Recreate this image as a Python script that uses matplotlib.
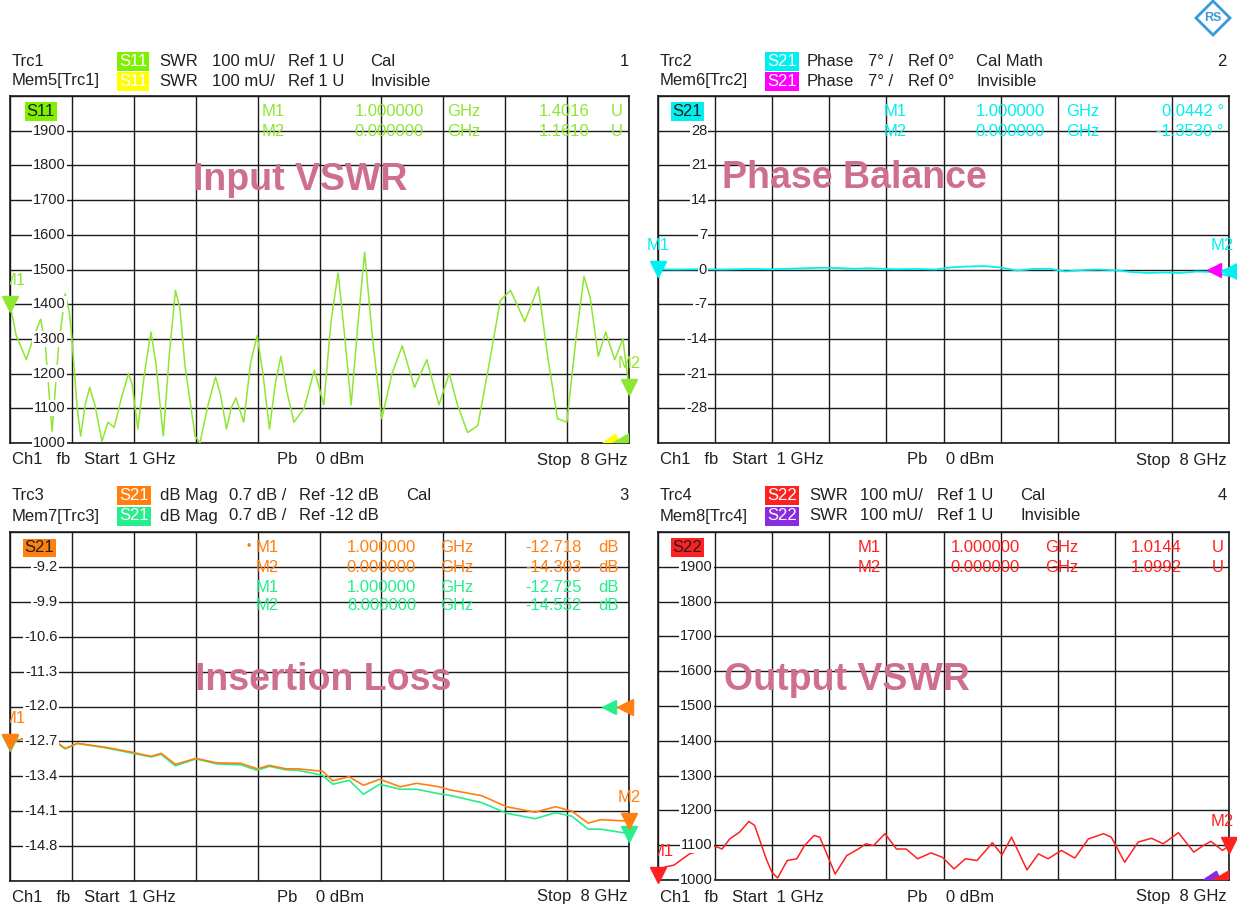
import matplotlib.pyplot as plt
import numpy as np
from matplotlib.patches import Polygon

plt.rcParams['font.family'] = ['Liberation Sans', 'DejaVu Sans']

# Trc1: S11 SWR (mU), 1..8 GHz
s11_f = [1.000, 1.07, 1.185, 1.26, 1.347, 1.40, 1.476, 1.55, 1.624, 1.67,
         1.70, 1.76, 1.799, 1.85, 1.901, 1.96, 2.040, 2.109, 2.178, 2.26,
         2.340, 2.38, 2.446, 2.52, 2.594, 2.65, 2.733, 2.80, 2.871, 2.92,
         2.98, 3.093, 3.148, 3.24, 3.324, 3.38, 3.449, 3.50, 3.555, 3.643,
         3.72, 3.795, 3.86, 3.934, 4.00, 4.063, 4.13, 4.211, 4.326, 4.442,
         4.548, 4.63, 4.710, 4.78, 4.858, 4.93, 5.010, 5.10, 5.204, 5.32,
         5.436, 5.574, 5.713, 5.851, 5.967, 6.06, 6.175, 6.290, 6.42, 6.544,
         6.660, 6.821, 6.974, 7.08, 7.191, 7.297, 7.40, 7.491, 7.56, 7.653,
         7.736, 7.838, 7.931, 7.97, 8.000]
s11_v = [1400, 1310, 1240, 1300, 1357, 1280, 1034, 1280, 1430, 1380,
         1300, 1100, 1020, 1110, 1160, 1110, 1005, 1060, 1045, 1130,
         1200, 1170, 1040, 1200, 1320, 1230, 1020, 1250, 1440, 1390,
         1220, 1020, 1000, 1110, 1190, 1140, 1040, 1100, 1130, 1060,
         1230, 1310, 1200, 1040, 1170, 1250, 1150, 1060, 1100, 1210,
         1110, 1350, 1490, 1320, 1110, 1330, 1550, 1300, 1070, 1200,
         1280, 1160, 1240, 1110, 1200, 1110, 1030, 1050, 1230, 1410,
         1440, 1350, 1450, 1250, 1070, 1060, 1300, 1480, 1420, 1250,
         1320, 1240, 1300, 1220, 1161]

# Trc2: S21 phase (deg)
ph_f = [1.0, 1.2, 1.5, 1.8, 2.1, 2.4, 2.7, 3.0, 3.2, 3.4, 3.6, 3.9, 4.2, 4.4,
        4.6, 4.8, 5.0, 5.2, 5.4, 5.6, 5.8, 6.0, 6.2, 6.4, 6.6, 6.8, 7.0, 7.2,
        7.4, 7.6, 7.8, 7.9, 8.0]
ph_v = [0.04, 0.0, 0.05, 0.0, 0.1, 0.05, 0.2, 0.35, 0.3, 0.15, 0.25, 0.05, 0.1, 0.0,
        0.45, 0.6, 0.7, 0.4, -0.2, 0.1, 0.15, -0.4, -0.1, 0.0, -0.15, -0.5, -0.7, -0.6,
        -0.7, -0.4, -0.5, -0.9, -1.35]

# Trc3: S21 dB Mag, trace and memory
il_f = [1.0, 1.162, 1.347, 1.508, 1.624, 1.762, 2.086, 2.363, 2.594, 2.710,
        2.871, 3.103, 3.334, 3.611, 3.795, 3.934, 4.119, 4.257, 4.535, 4.650,
        4.835, 4.997, 5.182, 5.413, 5.598, 5.852, 5.967, 6.337, 6.614, 6.938,
        7.169, 7.354, 7.538, 7.677, 8.0]
il_trc = [-12.72, -12.64, -12.67, -12.69, -12.84, -12.74, -12.82, -12.91, -13.00, -12.94,
          -13.16, -13.04, -13.13, -13.14, -13.25, -13.18, -13.25, -13.25, -13.30, -13.49,
          -13.41, -13.58, -13.46, -13.61, -13.54, -13.61, -13.67, -13.79, -14.01, -14.12,
          -14.01, -14.10, -14.34, -14.27, -14.30]
il_mem = [-12.72, -12.64, -12.67, -12.70, -12.85, -12.74, -12.83, -12.93, -13.01, -12.96,
          -13.19, -13.05, -13.15, -13.17, -13.28, -13.20, -13.27, -13.28, -13.38, -13.56,
          -13.48, -13.76, -13.56, -13.66, -13.66, -13.75, -13.78, -13.93, -14.14, -14.25,
          -14.13, -14.20, -14.46, -14.46, -14.55]

# Trc4: S22 SWR (mU)
s22_f = [1.0, 1.080, 1.197, 1.386, 1.527, 1.621, 1.715, 1.785, 1.879, 1.997,
         2.114, 2.185, 2.326, 2.397, 2.467, 2.584, 2.702, 2.796, 2.913, 2.984,
         3.172, 3.313, 3.454, 3.548, 3.642, 3.783, 3.924, 4.042, 4.183, 4.347,
         4.488, 4.629, 4.770, 4.911, 5.099, 5.217, 5.334, 5.523, 5.664, 5.781,
         5.946, 6.110, 6.275, 6.463, 6.557, 6.721, 6.886, 7.051, 7.192, 7.380,
         7.568, 7.685, 7.779, 7.920, 8.0]
s22_v = [1014, 1037, 1043, 1075, 1085, 1099, 1096, 1089, 1118, 1137,
         1168, 1157, 1061, 1022, 1006, 1056, 1061, 1099, 1128, 1123,
         1017, 1070, 1089, 1104, 1099, 1133, 1089, 1089, 1061, 1078,
         1065, 1032, 1061, 1056, 1107, 1072, 1123, 1029, 1075, 1061,
         1085, 1063, 1118, 1133, 1123, 1051, 1109, 1120, 1104, 1136,
         1080, 1099, 1111, 1085, 1099]

swr_ticks = [1900, 1800, 1700, 1600, 1500, 1400, 1300, 1200, 1100, 1000]
ph_ticks = [28, 21, 14, 7, 0, -7, -14, -21, -28]
il_ticks = [-9.2, -9.9, -10.6, -11.3, -12.0, -12.7, -13.4, -14.1, -14.8]

LIME = '#8ee632'
CYAN = '#00f0f0'
ORANGE = '#ff7f10'
MINT = '#26ee8c'
RED = '#ff2020'
PINK = '#cf6f90'

W, H = 1237, 911
fig = plt.figure(figsize=(W / 100, H / 100), dpi=100)


def fp(x, y):
    return x / W, 1 - y / H


def txt(x, y, s, color='#202020', size=12, ha='left', **kw):
    fig.text(*fp(x, y), s, color=color, fontsize=size, ha=ha, va='center', **kw)


def panel(l, t, r, b, ylo, yhi, ticks, fmt, labx):
    ax = fig.add_axes([l / W, 1 - b / H, (r - l) / W, (b - t) / H])
    ax.set_xlim(1, 8)
    ax.set_ylim(ylo, yhi)
    ax.set_xticks(np.linspace(1, 8, 11))
    ax.set_yticks(np.linspace(ylo, yhi, 11))
    ax.grid(True, color='#1a1a1a', lw=1)
    ax.set_axisbelow(True)
    ax.tick_params(length=0, labelbottom=False, labelleft=False)
    for s in ax.spines.values():
        s.set_color('#1a1a1a')
        s.set_linewidth(1.2)
    for v in ticks:
        ax.text(labx, v, fmt.format(v), transform=ax.get_yaxis_transform(),
                ha='right', va='center', fontsize=10.5, color='#202020',
                bbox=dict(fc='white', ec='none', pad=0.8), zorder=4)
    return ax


def header(x0, y0, trc, mem, box1, box2, c1, c2, desc, state1, state2, sx, num, xnum):
    txt(x0 + 2, y0, trc)
    txt(x0 + 2, y0 + 20, mem)
    txt(x0 + 109, y0, box1, color='white', bbox=dict(fc=c1, ec='none', pad=1.5))
    txt(x0 + 109, y0 + 20, box2, color='white', bbox=dict(fc=c2, ec='none', pad=1.5))
    for dx, s in desc:
        txt(x0 + dx, y0, s)
        txt(x0 + dx, y0 + 20, s)
    txt(sx, y0, state1)
    txt(sx, y0 + 20, state2)
    txt(xnum, y0, num, ha='right')


def footer(x0, x1, y, ppos):
    txt(x0 + 2, y, 'Ch1   fb   Start  1 GHz', size=12)
    txt(ppos, y, 'Pb    0 dBm', size=12)
    txt(x1, y, 'Stop  8 GHz', size=12, ha='right')


def mlabel(ax, x, y, s, color, clip, dx=0):
    ax.annotate(s, (x, y), xytext=(dx, 17), textcoords='offset points', ha='center',
                va='center', color=color, fontsize=12, annotation_clip=False,
                clip_on=clip)


# ---------- panel 1 ----------
ax1 = panel(10, 96, 629, 443, 1000, 2000, swr_ticks, '{:d}', 0.090)
ax1.plot(s11_f, s11_v, color=LIME, lw=1.1, zorder=3)
ax1.plot([1], [1401.6], marker='v', ms=11, color=LIME, clip_on=False, zorder=5)
ax1.plot([8], [1161], marker='v', ms=11, color=LIME, clip_on=False, zorder=5)
mlabel(ax1, 1, 1401.6, 'M1', LIME, True, dx=3)
mlabel(ax1, 8, 1161, 'M2', LIME, False)
ax1.add_patch(Polygon([(0.958, 0), (0.985, 0), (0.978, 0.025)], closed=True,
                      transform=ax1.transAxes, color='#ffff00', zorder=5))
ax1.add_patch(Polygon([(0.972, 0), (1.0, 0), (1.0, 0.03)], closed=True,
                      transform=ax1.transAxes, color=LIME, zorder=5))
ax1.text(0.027, 0.955, 'S11', transform=ax1.transAxes, fontsize=12, va='center',
         color='#202020', bbox=dict(fc='#80f000', ec='none', pad=1.2))

# ---------- panel 2 ----------
ax2 = panel(658, 96, 1229, 443, -35, 35, ph_ticks, '{:d}', 0.086)
ax2.plot(ph_f, ph_v, color=CYAN, lw=1.3, zorder=3)
ax2.plot([1], [0.0442], marker='v', ms=11, color=CYAN, clip_on=False, zorder=5)
ax2.plot([7.82], [0], marker='<', ms=10, color='#ff00ff', clip_on=False, zorder=5)
ax2.plot([8.0], [-0.3], marker='<', ms=11, color=CYAN, clip_on=False, zorder=6)
mlabel(ax2, 1, 0.0442, 'M1', CYAN, False)
mlabel(ax2, 8, 0, 'M2', CYAN, False, dx=-5)
ax2.text(0.025, 0.955, 'S21', transform=ax2.transAxes, fontsize=12, va='center',
         color='#202020', bbox=dict(fc=CYAN, ec='none', pad=1.2))

# ---------- panel 3 ----------
ax3 = panel(10, 532, 629, 881, -15.5, -8.5, il_ticks, '{:.1f}', 0.077)
ax3.plot(il_f, il_mem, color=MINT, lw=1.2, zorder=3)
ax3.plot(il_f, il_trc, color=ORANGE, lw=1.2, zorder=3)
ax3.plot([1], [-12.725], marker='v', ms=11, color=MINT, clip_on=False, zorder=5)
ax3.plot([1], [-12.718], marker='v', ms=11, color=ORANGE, clip_on=False, zorder=5)
ax3.plot([8], [-14.552], marker='v', ms=11, color=MINT, clip_on=False, zorder=5)
ax3.plot([8], [-14.303], marker='v', ms=11, color=ORANGE, clip_on=False, zorder=5)
ax3.plot([7.77], [-12.0], marker='<', ms=10, color=MINT, clip_on=False, zorder=5)
ax3.plot([7.95], [-12.0], marker='<', ms=11, color=ORANGE, clip_on=False, zorder=5)
mlabel(ax3, 1, -12.718, 'M1', ORANGE, True, dx=3)
mlabel(ax3, 8, -14.303, 'M2', ORANGE, False)
ax3.text(0.023, 0.955, 'S21', transform=ax3.transAxes, fontsize=12, va='center',
         color='#202020', bbox=dict(fc=ORANGE, ec='none', pad=1.2))

# ---------- panel 4 ----------
ax4 = panel(658, 532, 1229, 880, 1000, 2000, swr_ticks, '{:d}', 0.096)
ax4.plot(s22_f, s22_v, color=RED, lw=1.1, zorder=3)
ax4.plot([1], [1014.4], marker='v', ms=11, color=RED, clip_on=False, zorder=5)
ax4.plot([8], [1099.2], marker='v', ms=11, color=RED, clip_on=False, zorder=5)
mlabel(ax4, 1, 1014.4, 'M1', RED, True, dx=3)
mlabel(ax4, 8, 1099.2, 'M2', RED, False, dx=-5)
ax4.add_patch(Polygon([(0.955, 0), (0.985, 0), (0.978, 0.025)], closed=True,
                      transform=ax4.transAxes, color='#8a2be2', zorder=5))
ax4.add_patch(Polygon([(0.97, 0), (1.0, 0), (1.0, 0.03)], closed=True,
                      transform=ax4.transAxes, color=RED, zorder=5))
ax4.text(0.025, 0.955, 'S22', transform=ax4.transAxes, fontsize=12, va='center',
         color='#202020', bbox=dict(fc=RED, ec='none', pad=1.2))

# ---------- headers ----------
header(10, 61, 'Trc1', 'Mem5[Trc1]', 'S11', 'S11', '#80f000', '#ffff00',
       [(149, 'SWR'), (202, '100 mU/'), (278, 'Ref 1 U')], 'Cal', 'Invisible', 370, '1', 629)
header(658, 61, 'Trc2', 'Mem6[Trc2]', 'S21', 'S21', CYAN, '#ff00ff',
       [(149, 'Phase'), (210, '7° /'), (250, 'Ref 0°')], 'Cal Math', 'Invisible', 976, '2', 1227)
header(10, 496, 'Trc3', 'Mem7[Trc3]', 'S21', 'S21', ORANGE, MINT,
       [(150, 'dB Mag'), (219, '0.7 dB /'), (289, 'Ref -12 dB')], 'Cal', '', 406, '3', 629)
header(658, 496, 'Trc4', 'Mem8[Trc4]', 'S22', 'S22', RED, '#8a2be2',
       [(151, 'SWR'), (202, '100 mU/'), (279, 'Ref 1 U')], 'Cal', 'Invisible', 1020, '4', 1227)

footer(10, 628, 460, 277)
footer(658, 1227, 460, 907)
footer(10, 628, 897, 277)
footer(658, 1227, 897, 907)


# ---------- marker tables ----------
def mrow(y, xs, vals, color):
    x_m, x_f, x_u, x_v, x_vu = xs
    m, f, v, vu = vals
    txt(x_m, y, m, color=color)
    txt(x_f, y, f, color=color, ha='right')
    txt(x_u, y, 'GHz', color=color)
    txt(x_v, y, v, color=color, ha='right')
    txt(x_vu, y, vu, color=color)


mrow(112, (262, 424, 447, 590, 611), ('M1', '1.000000', '1.4016', 'U'), LIME)
mrow(131, (262, 424, 447, 590, 611), ('M2', '0.000000', '1.1610', 'U'), LIME)
mrow(112, (884, 1045, 1066, 1224, 1224), ('M1', '1.000000', '0.0442 °', ''), CYAN)
mrow(131, (884, 1045, 1066, 1224, 1224), ('M2', '0.000000', '-1.3530 °', ''), CYAN)
mrow(548, (256, 416, 440, 582, 598), ('M1', '1.000000', '-12.718', 'dB'), ORANGE)
mrow(567, (256, 416, 440, 582, 598), ('M2', '0.000000', '-14.303', 'dB'), ORANGE)
mrow(587, (256, 416, 440, 582, 598), ('M1', '1.000000', '-12.725', 'dB'), MINT)
mrow(606, (256, 416, 440, 582, 598), ('M2', '8.000000', '-14.552', 'dB'), MINT)
txt(246, 547, '•', color=ORANGE, size=9)
mrow(548, (858, 1020, 1045, 1182, 1212), ('M1', '1.000000', '1.0144', 'U'), RED)
mrow(567, (858, 1020, 1045, 1182, 1212), ('M2', '0.000000', '1.0992', 'U'), RED)

# ---------- big titles ----------
for x, y, s in [(193, 180, 'Input VSWR'), (722, 178, 'Phase Balance'),
                (195, 680, 'Insertion Loss'), (724, 680, 'Output VSWR')]:
    txt(x, y, s, color=PINK, size=27, fontweight='bold', zorder=6)

# ---------- logo ----------
cx, cy, rr = 1213, 18, 17
fig.patches.append(Polygon([fp(cx - rr, cy), fp(cx, cy - rr), fp(cx + rr, cy), fp(cx, cy + rr)],
                           closed=True, transform=fig.transFigure, fill=False,
                           ec='#3a9ad9', lw=2))
txt(cx, cy, 'RS', color='#3a9ad9', size=9, ha='center', fontweight='bold')

fig.savefig('out.png', dpi=100, facecolor='white')
